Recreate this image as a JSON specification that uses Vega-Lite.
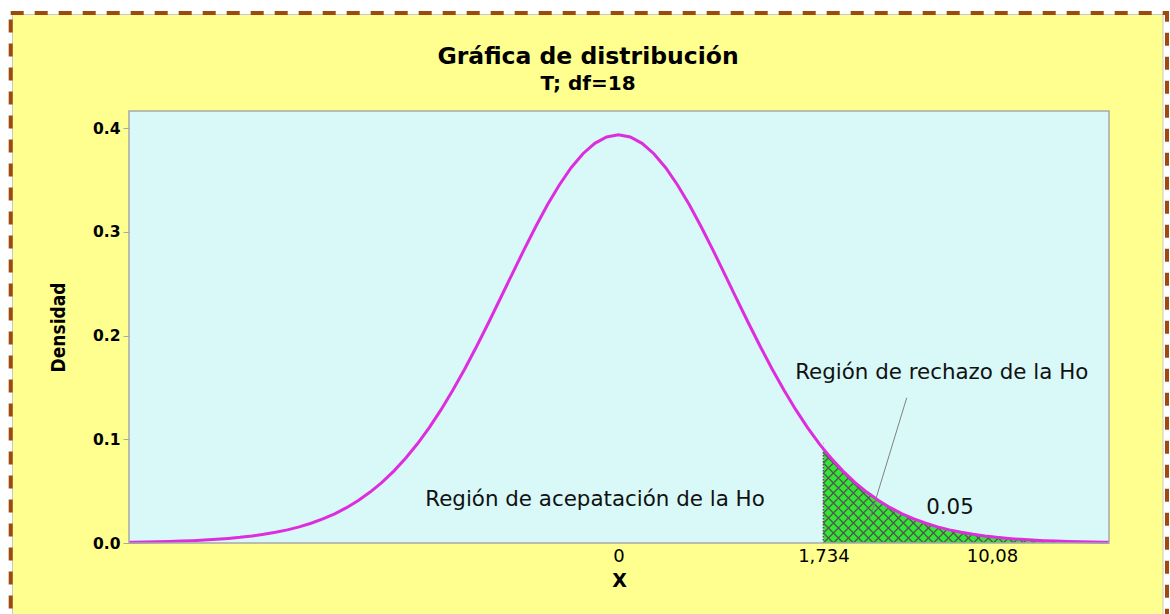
{
  "$schema": "https://vega.github.io/schema/vega-lite/v6.json",
  "autosize": {"type": "none"},
  "width": 980,
  "height": 432,
  "padding": {"left": 129, "top": 111, "right": 61, "bottom": 71},
  "background": "white",
  "title": {
    "text": "Gráfica de distribución",
    "subtitle": "T; df=18",
    "font": "DejaVu Sans",
    "fontSize": 23.5,
    "fontWeight": "bold",
    "color": "black",
    "subtitleFont": "DejaVu Sans",
    "subtitleFontSize": 20,
    "subtitleFontWeight": "bold",
    "subtitleColor": "black",
    "subtitlePadding": 6,
    "anchor": "middle",
    "dx": -31,
    "offset": -83
  },
  "datasets": {
    "curve": [
      {"t": -4.14, "d": 0.00068},
      {"t": -4.1, "d": 0.00075},
      {"t": -4.0, "d": 0.00094},
      {"t": -3.9, "d": 0.00117},
      {"t": -3.8, "d": 0.00146},
      {"t": -3.7, "d": 0.00182},
      {"t": -3.6, "d": 0.00228},
      {"t": -3.5, "d": 0.00284},
      {"t": -3.4, "d": 0.00353},
      {"t": -3.3, "d": 0.0044},
      {"t": -3.2, "d": 0.00545},
      {"t": -3.1, "d": 0.00676},
      {"t": -3.0, "d": 0.00836},
      {"t": -2.9, "d": 0.01031},
      {"t": -2.8, "d": 0.01268},
      {"t": -2.7, "d": 0.01556},
      {"t": -2.6, "d": 0.01902},
      {"t": -2.5, "d": 0.02318},
      {"t": -2.4, "d": 0.02815},
      {"t": -2.3, "d": 0.03403},
      {"t": -2.2, "d": 0.04097},
      {"t": -2.1, "d": 0.04907},
      {"t": -2.0, "d": 0.05848},
      {"t": -1.9, "d": 0.06931},
      {"t": -1.8, "d": 0.08167},
      {"t": -1.7, "d": 0.09561},
      {"t": -1.6, "d": 0.11124},
      {"t": -1.5, "d": 0.12851},
      {"t": -1.4, "d": 0.14738},
      {"t": -1.3, "d": 0.16775},
      {"t": -1.2, "d": 0.18938},
      {"t": -1.1, "d": 0.21205},
      {"t": -1.0, "d": 0.2354},
      {"t": -0.9, "d": 0.25899},
      {"t": -0.8, "d": 0.28231},
      {"t": -0.7, "d": 0.30484},
      {"t": -0.6, "d": 0.32597},
      {"t": -0.5, "d": 0.34512},
      {"t": -0.4, "d": 0.36172},
      {"t": -0.3, "d": 0.37523},
      {"t": -0.2, "d": 0.38523},
      {"t": -0.1, "d": 0.39137},
      {"t": 0.0, "d": 0.39344},
      {"t": 0.1, "d": 0.39137},
      {"t": 0.2, "d": 0.38523},
      {"t": 0.3, "d": 0.37523},
      {"t": 0.4, "d": 0.36172},
      {"t": 0.5, "d": 0.34512},
      {"t": 0.6, "d": 0.32597},
      {"t": 0.7, "d": 0.30484},
      {"t": 0.8, "d": 0.28231},
      {"t": 0.9, "d": 0.25899},
      {"t": 1.0, "d": 0.2354},
      {"t": 1.1, "d": 0.21205},
      {"t": 1.2, "d": 0.18938},
      {"t": 1.3, "d": 0.16775},
      {"t": 1.4, "d": 0.14738},
      {"t": 1.5, "d": 0.12851},
      {"t": 1.6, "d": 0.11124},
      {"t": 1.7, "d": 0.09561},
      {"t": 1.734, "d": 0.09068},
      {"t": 1.8, "d": 0.08167},
      {"t": 1.9, "d": 0.06931},
      {"t": 2.0, "d": 0.05848},
      {"t": 2.1, "d": 0.04907},
      {"t": 2.2, "d": 0.04097},
      {"t": 2.3, "d": 0.03403},
      {"t": 2.4, "d": 0.02815},
      {"t": 2.5, "d": 0.02318},
      {"t": 2.6, "d": 0.01902},
      {"t": 2.7, "d": 0.01556},
      {"t": 2.8, "d": 0.01268},
      {"t": 2.9, "d": 0.01031},
      {"t": 3.0, "d": 0.00836},
      {"t": 3.1, "d": 0.00676},
      {"t": 3.2, "d": 0.00545},
      {"t": 3.3, "d": 0.0044},
      {"t": 3.4, "d": 0.00353},
      {"t": 3.5, "d": 0.00284},
      {"t": 3.6, "d": 0.00228},
      {"t": 3.7, "d": 0.00182},
      {"t": 3.8, "d": 0.00146},
      {"t": 3.9, "d": 0.00117},
      {"t": 4.0, "d": 0.00094},
      {"t": 4.1, "d": 0.00075},
      {"t": 4.15, "d": 0.00067}
    ],
    "notes": [
      {"t": -0.198, "d": 0.0414, "label": "Región de acepatación de la Ho"},
      {"t": 2.735, "d": 0.1636, "label": "Región de rechazo de la Ho"},
      {"t": 2.805, "d": 0.0337, "label": "0.05"}
    ],
    "leader": [
      {"t": 2.439, "d": 0.14, "t2": 2.128, "d2": 0.0238}
    ]
  },
  "data": {"name": "curve"},
  "layer": [
    {
      "transform": [{"filter": "datum.t == 1.734"}],
      "mark": {"type": "rect", "fill": "#FFFF8F", "stroke": "#C8C8C8", "strokeWidth": 1},
      "encoding": {
        "x": {
          "datum": -5.1255,
          "type": "quantitative",
          "scale": {"domain": [-4.14, 4.15], "nice": false, "zero": false},
          "axis": {
            "title": "X",
            "titleFont": "DejaVu Sans",
            "titleFontSize": 19,
            "titleFontWeight": "bold",
            "titleColor": "black",
            "titlePadding": 6,
            "values": [0, 1.734, 3.16],
            "labelExpr": "datum.value == 0 ? '0' : (datum.value < 2 ? '1,734' : '10,08')",
            "labelFont": "DejaVu Sans",
            "labelFontSize": 18,
            "labelColor": "black",
            "labelPadding": 4,
            "ticks": false,
            "domain": false,
            "grid": false,
            "zindex": 1
          }
        },
        "x2": {"datum": 4.6068},
        "y": {
          "datum": 0.50942,
          "type": "quantitative",
          "scale": {"domain": [0, 0.4164], "nice": false, "zero": false},
          "axis": {
            "title": "Densidad",
            "titleFont": "DejaVu Sans Condensed, Liberation Sans Narrow, sans-serif",
            "titleFontSize": 19,
            "titleFontWeight": "bold",
            "titleColor": "black",
            "titlePadding": 24,
            "values": [0, 0.1, 0.2, 0.3, 0.4],
            "format": ".1f",
            "labelFont": "DejaVu Sans",
            "labelFontSize": 15.5,
            "labelFontWeight": "bold",
            "labelColor": "black",
            "labelPadding": 3,
            "tickSize": 6,
            "tickColor": "#A8A8A8",
            "domain": false,
            "grid": false,
            "zindex": 1
          }
        },
        "y2": {"datum": -0.2}
      }
    },
    {
      "transform": [{"filter": "datum.t == 1.734"}],
      "mark": {"type": "rect", "fillOpacity": 0, "stroke": "#9C4A0F", "strokeWidth": 4, "strokeDash": [13, 11]},
      "encoding": {
        "x": {"datum": -5.1407, "type": "quantitative"},
        "x2": {"datum": 4.6406},
        "y": {"datum": 0.51086, "type": "quantitative"},
        "y2": {"datum": -0.2}
      }
    },
    {
      "transform": [{"filter": "datum.t == 1.734"}],
      "mark": {"type": "rect", "fill": "#D9F8F8", "strokeWidth": 0},
      "encoding": {
        "x": {"datum": -4.14, "type": "quantitative"},
        "x2": {"datum": 4.15},
        "y": {"datum": 0.4164, "type": "quantitative"},
        "y2": {"datum": 0}
      }
    },
    {
      "transform": [{"filter": "datum.t >= 1.734"}],
      "mark": {"type": "area", "color": "#33E633", "opacity": 1},
      "encoding": {
        "x": {"field": "t", "type": "quantitative"},
        "y": {"field": "d", "type": "quantitative"}
      }
    },
    {
      "transform": [{"filter": "datum.t == 1.734"}],
      "mark": {
        "type": "point",
        "filled": false,
        "opacity": 1,
        "clip": true,
        "size": 4,
        "stroke": "#555555",
        "strokeWidth": 1.3,
        "shape": "M0 -90L10 -100 M0 -80L20 -100 M0 -70L30 -100 M0 -60L40 -100 M0 -50L50 -100 M0 -40L60 -100 M0 -30L70 -100 M0 -20L80 -100 M0 -10L90 -100 M0 0L100 -100 M10 0L110 -100 M20 0L120 -100 M30 0L130 -100 M40 0L140 -100 M50 0L150 -100 M60 0L160 -100 M70 0L170 -100 M80 0L180 -100 M90 0L190 -100 M100 0L200 -100 M110 0L210 -100 M120 0L220 -100 M130 0L230 -100 M140 0L240 -100 M150 0L250 -100 M160 0L260 -100 M170 0L270 -100 M180 0L280 -100 M190 0L290 -100 M200 0L300 -100 M210 0L300 -90 M220 0L300 -80 M230 0L300 -70 M240 0L300 -60 M250 0L300 -50 M260 0L300 -40 M270 0L300 -30 M280 0L300 -20 M290 0L300 -10 M0 -10L10 0 M0 -20L20 0 M0 -30L30 0 M0 -40L40 0 M0 -50L50 0 M0 -60L60 0 M0 -70L70 0 M0 -80L80 0 M0 -90L90 0 M0 -100L100 0 M10 -100L110 0 M20 -100L120 0 M30 -100L130 0 M40 -100L140 0 M50 -100L150 0 M60 -100L160 0 M70 -100L170 0 M80 -100L180 0 M90 -100L190 0 M100 -100L200 0 M110 -100L210 0 M120 -100L220 0 M130 -100L230 0 M140 -100L240 0 M150 -100L250 0 M160 -100L260 0 M170 -100L270 0 M180 -100L280 0 M190 -100L290 0 M200 -100L300 0 M210 -100L300 -10 M220 -100L300 -20 M230 -100L300 -30 M240 -100L300 -40 M250 -100L300 -50 M260 -100L300 -60 M270 -100L300 -70 M280 -100L300 -80 M290 -100L300 -90"
      },
      "encoding": {
        "x": {"field": "t", "type": "quantitative"},
        "y": {"datum": 0, "type": "quantitative"}
      }
    },
    {
      "transform": [{"filter": "datum.t >= 1.734"}],
      "mark": {"type": "area", "color": "#D9F8F8", "opacity": 1},
      "encoding": {
        "x": {"field": "t", "type": "quantitative"},
        "y": {"field": "d", "type": "quantitative"},
        "y2": {"datum": 0.1}
      }
    },
    {
      "transform": [{"filter": "datum.t == 1.734"}],
      "mark": {"type": "rule", "color": "#555555", "strokeWidth": 1.5, "strokeDash": [1.5, 1.5]},
      "encoding": {
        "x": {"field": "t", "type": "quantitative"},
        "y": {"field": "d", "type": "quantitative"},
        "y2": {"datum": 0}
      }
    },
    {
      "mark": {"type": "line", "color": "#DD2EDD", "strokeWidth": 3},
      "encoding": {
        "x": {"field": "t", "type": "quantitative"},
        "y": {"field": "d", "type": "quantitative"}
      }
    },
    {
      "data": {"name": "leader"},
      "mark": {"type": "rule", "color": "#808080", "strokeWidth": 1},
      "encoding": {
        "x": {"field": "t", "type": "quantitative"},
        "y": {"field": "d", "type": "quantitative"},
        "x2": {"field": "t2"},
        "y2": {"field": "d2"}
      }
    },
    {
      "data": {"name": "notes"},
      "mark": {"type": "text", "font": "DejaVu Sans", "fontSize": 21.4, "color": "#111111", "align": "center", "baseline": "middle"},
      "encoding": {
        "x": {"field": "t", "type": "quantitative"},
        "y": {"field": "d", "type": "quantitative"},
        "text": {"field": "label"}
      }
    },
    {
      "transform": [{"filter": "datum.t == 1.734"}],
      "mark": {"type": "rect", "fillOpacity": 0, "stroke": "#A8A8A8", "strokeWidth": 1.5},
      "encoding": {
        "x": {"datum": -4.14, "type": "quantitative"},
        "x2": {"datum": 4.15},
        "y": {"datum": 0.4164, "type": "quantitative"},
        "y2": {"datum": 0}
      }
    }
  ],
  "config": {
    "view": {"stroke": null}
  }
}
